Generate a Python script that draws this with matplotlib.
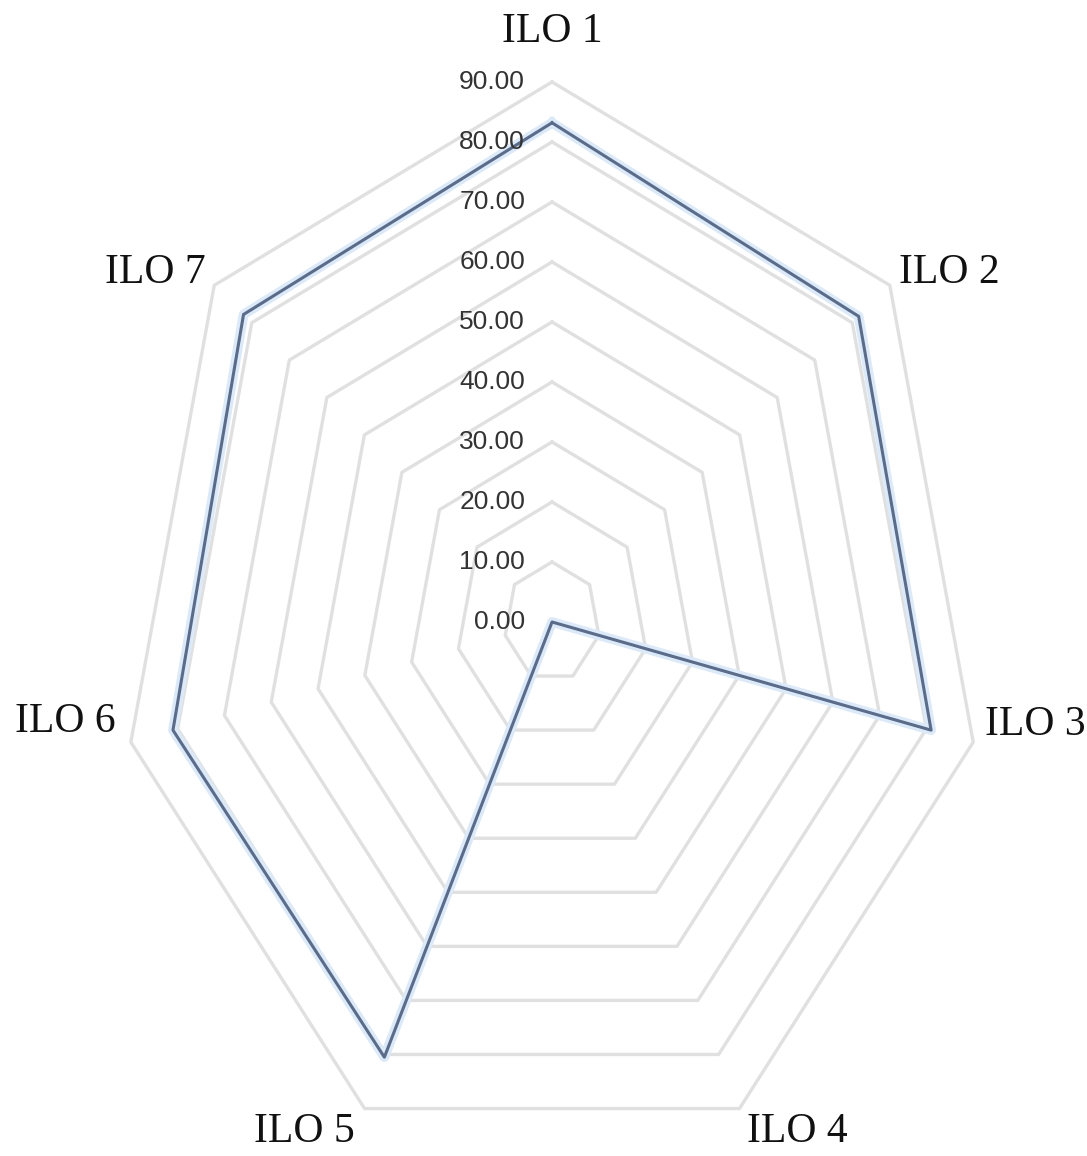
import numpy as np
import matplotlib.pyplot as plt
from matplotlib.transforms import offset_copy

categories = ['ILO 1', 'ILO 2', 'ILO 3', 'ILO 4', 'ILO 5', 'ILO 6', 'ILO 7']
scores = [83.2, 81.7, 81.0, 0.0, 80.5, 81.0, 82.2]
grid_levels = [0, 10, 20, 30, 40, 50, 60, 70, 80, 90]
grid_labels = ['0.00', '10.00', '20.00', '30.00', '40.00', '50.00',
               '60.00', '70.00', '80.00', '90.00']

# pixel offsets of the category labels from the outer vertices
label_offsets = [(0, 50), (60, 13), (62, 17), (58, -23), (-60, -23), (-66, 20), (-59, 13)]

angles = np.linspace(0, 2 * np.pi, len(categories), endpoint=False)
closed = np.append(angles, angles[0])

fig = plt.figure(figsize=(10.87, 11.56), dpi=100)
ax = fig.add_axes([0.1104, -0.0052, 0.7949, 0.9343], projection='polar')
ax.set_theta_zero_location('N')
ax.set_theta_direction(-1)
ax.set_aspect('auto')
ax.set_ylim(0, 90)
ax.grid(False)
ax.set_xticks([])
ax.set_yticks([])
ax.spines['polar'].set_visible(False)
ax.patch.set_visible(False)

# heptagon gridlines
for lvl in grid_levels[1:]:
    ax.plot(closed, [lvl] * len(closed), color='#e0e0e0', lw=2.4, zorder=1, clip_on=False)

# data series with soft halo
vals = scores + scores[:1]
ax.plot(closed, vals, color='#dbe9f8', lw=7, zorder=2, clip_on=False)
ax.plot(closed, vals, color='#5b6c8a', lw=2.2, zorder=3, clip_on=False)

# value labels along the top axis
trans = offset_copy(ax.transData, fig=fig, x=-27, y=0, units='dots')
for lvl, lab in zip(grid_levels, grid_labels):
    ax.text(0, lvl, lab, transform=trans, ha='right', va='center',
            fontsize=19, family=['Liberation Sans Narrow', 'Liberation Sans'],
            color='#333333', clip_on=False)

# category labels
for ang, cat, off in zip(angles, categories, label_offsets):
    ax.annotate(cat, xy=(ang, 90), xytext=off, textcoords='offset pixels',
                ha='center', va='center', fontsize=30, family='Liberation Serif',
                color='#111111', annotation_clip=False)

fig.savefig('out.png', dpi=100)
